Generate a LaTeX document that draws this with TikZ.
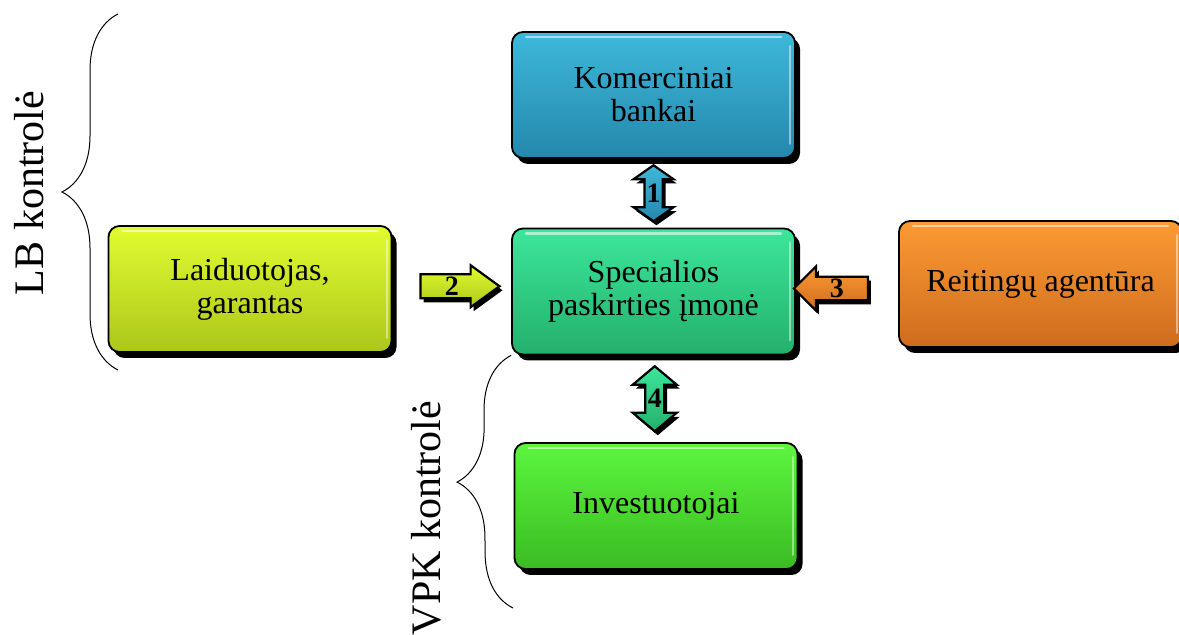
\documentclass[tikz,border=0pt]{standalone}
\usepackage{fontspec}
\setmainfont{Liberation Serif}
\usetikzlibrary{shapes.arrows,shadows,calc,decorations.pathreplacing}

\definecolor{koml}{RGB}{62,184,218}
\definecolor{komd}{RGB}{36,136,172}
\definecolor{specl}{RGB}{60,230,155}
\definecolor{specd}{RGB}{36,176,108}
\definecolor{invl}{RGB}{92,246,62}
\definecolor{invd}{RGB}{58,188,34}
\definecolor{lail}{RGB}{226,252,48}
\definecolor{laid}{RGB}{172,198,28}
\definecolor{reil}{RGB}{252,154,52}
\definecolor{reid}{RGB}{206,108,30}

\tikzset{
  blok/.style 2 args={rounded corners=11pt, minimum width=283pt, minimum height=126pt,
    align=center, draw=black, line width=1.8pt, top color=#1, bottom color=#2,
    font=\fontsize{32}{33}\selectfont,
    drop shadow={shadow xshift=5pt, shadow yshift=-6pt, opacity=1, fill=black},
    path picture={
      \draw[white, opacity=0.55, line width=2.5pt, line cap=round]
        ([xshift=14pt,yshift=-5pt]path picture bounding box.north west) --
        ([xshift=-14pt,yshift=-5pt]path picture bounding box.north east);
      \draw[white, opacity=0.45, line width=2pt, line cap=round]
        ([xshift=-5pt,yshift=-14pt]path picture bounding box.north east) --
        ([xshift=-5pt,yshift=14pt]path picture bounding box.south east);}},
  rod/.style 2 args={font=\fontsize{28}{28}\selectfont\bfseries, draw=black, line width=2.2pt,
    inner sep=1pt, top color=#1, bottom color=#2,
    drop shadow={shadow xshift=3pt, shadow yshift=-4pt, opacity=1, fill=black}},
  brace/.style={decorate, decoration={brace, amplitude=#1}, line width=1pt},
  kontr/.style={rotate=90, font=\fontsize{42}{42}\selectfont}
}

\begin{document}
\begin{tikzpicture}[x=1pt, y=1pt]
  \useasboundingbox (0,0) rectangle (1179,635);

  \node[blok={koml}{komd}] (kom) at (653.5,540) {Komerciniai\\bankai};
  \node[blok={specl}{specd}] (spec) at (653.5,343.5) {Specialios\\paskirties įmonė};
  \node[blok={invl}{invd}] (inv) at (656,129) {Investuotojai};
  \node[blok={lail}{laid}] (lai) at (250,346) {Laiduotojas,\\garantas};
  \node[blok={reil}{reid}] (rei) at (1040.5,351) {Reitingų agentūra};

  \node[rod={koml}{komd}, double arrow, shape border rotate=90, minimum height=56pt,
    minimum width=40pt, double arrow head extend=11pt, double arrow tip angle=110]
    (r1) at ($(kom.south)!0.5!(spec.north)$) {1};
  \node[rod={lail}{laid}, single arrow, minimum height=79pt, minimum width=42pt,
    single arrow head extend=8.5pt, single arrow tip angle=72]
    (r2) at ($(lai.east)!0.5!(spec.west)+(0,4)$) {2};
  \node[rod={reil}{reid}, single arrow, shape border rotate=180, minimum height=74pt,
    minimum width=44pt, single arrow head extend=10pt, single arrow tip angle=90]
    (r3) at ($(spec.east)!0.4!(rei.west)$) {3};
  \node[rod={specl}{specd}, double arrow, shape border rotate=90, minimum height=65pt,
    minimum width=44pt, double arrow head extend=12pt, double arrow tip angle=100]
    (r4) at ($(spec.south)!0.5!(inv.north)$) {4};

  \coordinate (lbb) at (118,265);
  \coordinate (lbt) at (118,621);
  \coordinate (vpkb) at (513,27);
  \draw[brace=56pt] (lbb) -- (lbt);
  \draw[brace=55pt] (vpkb) -- (spec.south west);

  \node[kontr] (lb) at (29,442) {LB kontrolė};
  \node[kontr] (vpk) at (426,117) {VPK kontrolė};
\end{tikzpicture}
\end{document}
